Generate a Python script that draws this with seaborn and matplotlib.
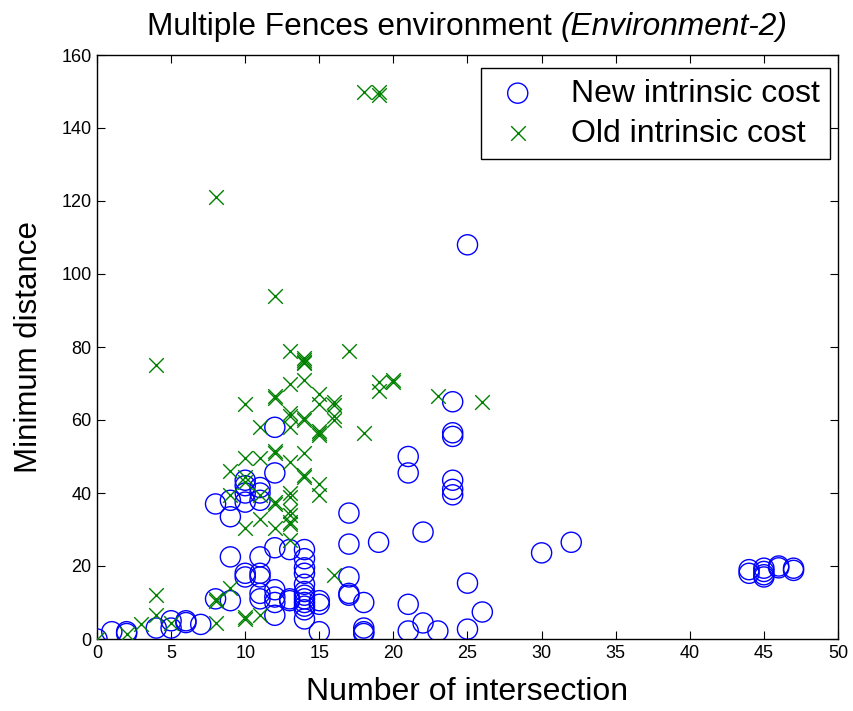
import matplotlib
matplotlib.use("Agg")
import matplotlib.pyplot as plt
import seaborn as sns
import pandas as pd

# ---- data ----
new_x = [0, 1, 2, 2, 4, 5, 5, 6, 6, 7, 8, 8,
         9, 9, 9, 9,
         10, 10, 10, 10, 10, 10,
         11, 11, 11, 11, 11, 11, 11, 11,
         12, 12, 12, 12, 12, 12, 12,
         13, 13, 13,
         14, 14, 14, 14, 14, 14, 14, 14, 14, 14, 14, 14,
         15, 15, 15,
         17, 17, 17, 17, 17,
         18, 18, 18, 18,
         19,
         21, 21, 21, 21,
         22, 22,
         23,
         24, 24, 24, 24, 24, 24,
         25, 25, 25,
         26, 30, 32,
         44, 44, 45, 45, 45, 45, 46, 46, 47, 47]
new_y = [0, 2, 1.5, 2, 3, 3, 5, 4.5, 5, 4, 11, 37,
         10.5, 22.5, 33.5, 38,
         17, 18, 37.5, 40, 42, 43.5,
         11, 12.5, 17, 18, 22.5, 38, 40, 41.5,
         6.5, 10, 11.5, 13.5, 25, 45.5, 58,
         10.5, 11, 24.5,
         5.5, 8, 9, 10, 11, 12, 13, 15, 18, 19.5, 22, 24.5,
         2, 9.5, 10.5,
         12, 12.5, 17, 26, 34.5,
         1.5, 2, 3, 10,
         26.5,
         2.2, 9.5, 45.5, 50,
         4.4, 29.3,
         2.2,
         39.5, 41, 43.5, 55.5, 56.5, 65,
         2.7, 15.3, 108,
         7.4, 23.6, 26.5,
         18, 19, 17, 17.6, 18.5, 19.4, 19.5, 20, 18.8, 19.4]

old_x = [0, 2, 3, 4, 4, 4, 5,
         8, 8, 8, 8,
         9, 9, 9,
         10, 10, 10, 10, 10, 10, 10,
         11, 11, 11, 11, 11,
         12, 12, 12, 12, 12, 12, 12, 12,
         13, 13, 13, 13, 13, 13, 13, 13, 13, 13, 13, 13, 13,
         14, 14, 14, 14, 14, 14, 14, 14, 14, 14,
         15, 15, 15, 15, 15, 15, 15,
         16, 16, 16, 16, 16,
         17, 18, 18,
         19, 19, 19, 19,
         20, 20, 23, 26]
old_y = [0, 1.5, 4, 6.5, 12, 75, 4.5,
         4.5, 10.5, 11, 121,
         14, 39.5, 46,
         5.5, 6, 30.5, 43, 44.5, 49.5, 64.5,
         6.5, 33, 39.5, 49.5, 58,
         30.5, 37, 37.5, 51, 51.5, 66, 66.5, 94,
         27, 31.5, 32, 34, 35, 39, 40, 48.5, 58, 61, 62, 70, 79,
         44.5, 45, 51, 60, 60.5, 71, 75.5, 76, 76.5, 77,
         39.5, 42.5, 56, 56.5, 57, 64.5, 67,
         17.5, 60, 61, 64, 65,
         79, 56.5, 150,
         68, 70.5, 150, 149,
         70.5, 71, 66.5, 64.8]

x_ticks = [0, 5, 10, 15, 20, 25, 30, 35, 40, 45, 50]
y_ticks = [0, 20, 40, 60, 80, 100, 120, 140, 160]

label_new = "New intrinsic cost"
label_old = "Old intrinsic cost"
title_main = "Multiple Fences environment "
title_ital = "(Environment-2)"
x_label = "Number of intersection"
y_label = "Minimum distance"

# ---- styling ----
sns.set_theme(style="white")
plt.rcParams["font.family"] = ["Liberation Sans", "DejaVu Sans"]
plt.rcParams["text.color"] = "black"
plt.rcParams["axes.labelcolor"] = "black"

df_new = pd.DataFrame({"x": new_x, "y": new_y})
df_old = pd.DataFrame({"x": old_x, "y": old_y})

fig = plt.figure(figsize=(8.54, 7.11), dpi=100)
ax = fig.add_axes([97 / 854, 1 - 639 / 711, (838 - 97) / 854, (639 - 55) / 711])

sns.scatterplot(data=df_new, x="x", y="y", ax=ax, marker="o", s=210,
                color="#0000FF", facecolor="none", edgecolor="#0000FF",
                linewidth=1.0, label=label_new, zorder=3)
sns.scatterplot(data=df_old, x="x", y="y", ax=ax, marker="x", s=110,
                color="#008000", linewidth=1.0, label=label_old, zorder=4)

ax.set_xlim(0, 50)
ax.set_ylim(0, 160)
ax.set_xticks(x_ticks)
ax.set_yticks(y_ticks)
ax.set_xticklabels([str(t) for t in x_ticks])
ax.set_yticklabels([str(t) for t in y_ticks])
ax.tick_params(direction="in", length=6, width=0.8, colors="black",
               labelsize=13, top=True, right=True, bottom=True, left=True,
               pad=4)
for sp in ax.spines.values():
    sp.set_color("black")
    sp.set_linewidth(1.0)

ax.set_xlabel(x_label, fontsize=23, color="black")
ax.set_ylabel(y_label, fontsize=22.5, color="black")
ax.xaxis.set_label_coords(0.5, (639 - 677) / 584)
ax.yaxis.set_label_coords((44 - 97) / 741, 0.5)

leg = ax.legend(loc="upper right", bbox_to_anchor=((830 - 97) / 741, (639 - 68) / 584),
                borderaxespad=0, fontsize=23, frameon=True, fancybox=False,
                framealpha=1, edgecolor="black", labelspacing=0.32,
                handletextpad=0.83, borderpad=0.33, handlelength=1.65)
leg.get_frame().set_linewidth(1.0)
for txt in leg.get_texts():
    txt.set_color("black")

# title: regular part + italic part, centred together over the axes
t1 = fig.text(0, 1 - 27 / 711, title_main, fontsize=22.8, color="black",
              ha="left", va="center")
t2 = fig.text(0, 1 - 27 / 711, title_ital, fontsize=22.8, color="black",
              ha="left", va="center", style="italic")
fig.canvas.draw()
r = fig.canvas.get_renderer()
w1 = t1.get_window_extent(r).width
w2 = t2.get_window_extent(r).width
cx = (148 + 787) / 2
start = cx - (w1 + w2) / 2
t1.set_x(start / 854)
t2.set_x((start + w1) / 854)

fig.savefig("out.png", dpi=100, facecolor="white")
